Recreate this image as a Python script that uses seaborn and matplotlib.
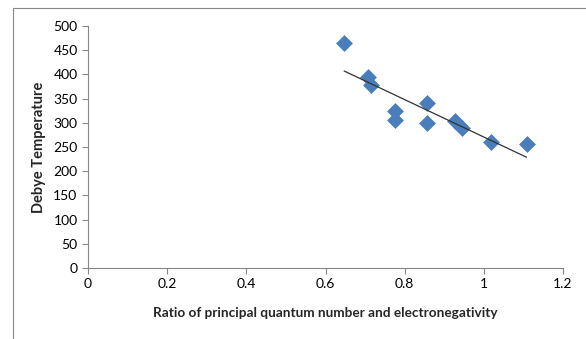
import matplotlib.pyplot as plt
import seaborn as sns
import pandas as pd

# ratio of principal quantum number to electronegativity
ratio = [0.647, 0.708, 0.716, 0.776, 0.776, 0.857, 0.857, 0.928, 0.946, 1.019, 1.108]
# Debye temperature
debye = [465, 395, 378, 324, 306, 340, 300, 304, 290, 261, 256]

x_ticks = [0, 0.2, 0.4, 0.6, 0.8, 1, 1.2]
x_tick_labels = ["0", "0.2", "0.4", "0.6", "0.8", "1", "1.2"]
y_ticks = [0, 50, 100, 150, 200, 250, 300, 350, 400, 450, 500]

df = pd.DataFrame({"ratio": ratio, "debye": debye})

sns.set_style("white")
plt.rcParams["font.family"] = ["Lato", "DejaVu Sans"]

fig = plt.figure(figsize=(5.86, 3.39), dpi=100)
ax = fig.add_axes([88 / 586, 71 / 339, 475 / 586, 242 / 339])

# chart area border (partly cropped in the original)
fig.patches.append(plt.Rectangle(
    (13 / 586, -0.05), 1.0, (339 - 8) / 339 + 0.05,
    transform=fig.transFigure, fill=False, edgecolor="#888888", linewidth=0.8
))

sns.scatterplot(
    data=df,
    x="ratio",
    y="debye",
    marker="D",
    s=65,
    color="#4a7ebb",
    edgecolor="#4a7ebb",
    linewidth=0.5,
    ax=ax
)

sns.regplot(
    data=df,
    x="ratio",
    y="debye",
    scatter=False,
    ci=None,
    line_kws={"color": "#333333", "linewidth": 0.9},
    ax=ax
)

ax.set_xlim(0, 1.2)
ax.set_ylim(0, 500)
ax.set_xticks(x_ticks)
ax.set_xticklabels(x_tick_labels)
ax.set_yticks(y_ticks)

for side in ["top", "right"]:
    ax.spines[side].set_visible(False)
for side in ["left", "bottom"]:
    ax.spines[side].set_color("#868686")
    ax.spines[side].set_linewidth(0.8)

ax.tick_params(
    axis="both",
    direction="out",
    length=4,
    width=0.8,
    color="#868686",
    labelsize=10,
    labelcolor="#000000",
    left=True,
    bottom=True
)

ax.set_xlabel(
    "Ratio of principal quantum number and electronegativity",
    fontsize=9.8,
    fontweight="bold",
    labelpad=12
)
ax.set_ylabel(
    "Debye Temperature",
    fontsize=10.5,
    fontweight="bold",
    labelpad=5
)

fig.savefig("out.png", dpi=100)
